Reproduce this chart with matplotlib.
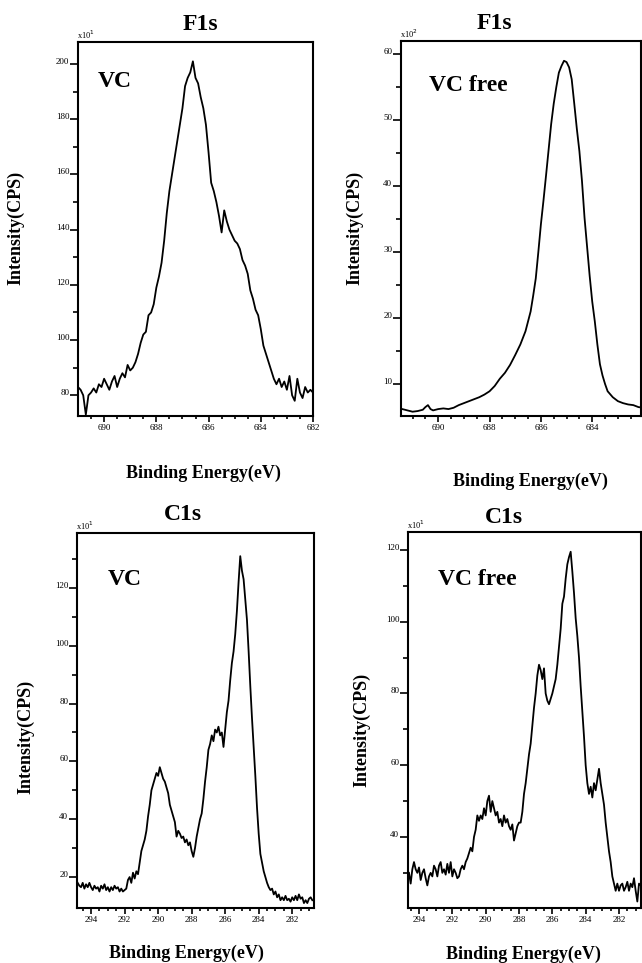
import numpy as np
import matplotlib
matplotlib.use("Agg")
import matplotlib.pyplot as plt

# ---------------- data ----------------
# F1s, VC (x10^1 CPS)
f1s_vc_y = [83, 82, 80, 73, 80, 81, 82.5, 81, 84, 83,
            86, 84, 82, 85, 87, 83, 86, 88, 86.5, 91,
            89, 90, 92, 95, 99, 102, 103, 109, 110, 113,
            119, 123, 128, 136, 146, 154, 160, 166, 172, 178,
            184, 192, 195, 197, 201, 195, 193, 188, 184, 178,
            168, 157, 154, 150, 145, 139, 147, 143, 140, 138,
            136, 135, 133, 129, 127, 124, 118, 115, 111, 109,
            104, 98, 95, 92, 89, 86, 84, 86, 83, 85,
            82, 87, 80, 78, 86, 81, 79, 83, 81, 82,
            81]
f1s_vc_x = np.linspace(691.0, 682.0, len(f1s_vc_y))

# F1s, VC free (x10^2 CPS)
f1s_free_x = [691.4, 691.2, 691.0, 690.8, 690.6, 690.5, 690.4, 690.3, 690.2, 690.0,
              689.8, 689.6, 689.4, 689.2, 689.0, 688.8, 688.6, 688.4, 688.2, 688.0,
              687.8, 687.6, 687.4, 687.2, 687.0, 686.8, 686.6, 686.4, 686.3, 686.2,
              686.1, 686.0, 685.9, 685.8, 685.7, 685.6, 685.5, 685.4, 685.3, 685.2,
              685.1, 685.0, 684.9, 684.8, 684.7, 684.6, 684.5, 684.4, 684.3, 684.2,
              684.1, 684.0, 683.9, 683.8, 683.7, 683.6, 683.5, 683.4, 683.2, 683.0,
              682.8, 682.6, 682.4, 682.2, 682.0]
f1s_free_y = [6.2, 6.0, 5.8, 5.9, 6.1, 6.5, 6.8, 6.2, 6.0, 6.2,
              6.3, 6.2, 6.4, 6.8, 7.1, 7.4, 7.7, 8.0, 8.4, 8.9,
              9.7, 10.8, 11.7, 12.9, 14.4, 16.0, 18.0, 21.0, 23.4, 26.0,
              30.0, 34.2, 37.8, 41.6, 45.5, 49.4, 52.5, 55.0, 57.2, 58.2,
              59.0, 58.8, 58.0, 56.2, 52.5, 48.7, 45.3, 40.8, 35.2, 30.8,
              26.4, 22.5, 19.5, 16.0, 13.0, 11.3, 10.0, 8.9, 8.0, 7.4,
              7.1, 6.9, 6.8, 6.5, 6.4]

# C1s, VC (x10^1 CPS)
c1s_vc_y = [18, 17, 16.5, 18, 16, 17.5, 16.5, 18, 16.5, 15.5,
            17, 16, 16.5, 15, 17, 16, 17.5, 15.5, 16.5, 15,
            16.5, 15.5, 17, 16, 16.5, 15, 16, 15, 15.5, 16,
            19, 20, 18, 21.5, 19.5, 22, 21, 25, 29, 31,
            33, 36, 41, 45, 50, 52, 54, 56, 55, 58,
            56, 54, 53, 51, 49, 45, 43, 41, 39, 34,
            36, 35, 33.5, 34, 32, 33, 31, 32, 29, 27,
            30, 34, 37, 40, 42, 47, 53, 58, 64, 66,
            69, 67, 71, 70, 72, 69, 70, 65, 71, 77,
            81, 88, 94, 98, 104, 112, 122, 131, 126, 123,
            116, 109, 98, 86, 75, 65, 55, 44, 35, 28,
            25, 22, 20, 18, 16.5, 15.5, 16, 14, 15, 13,
            14, 12, 13, 12, 13.5, 12, 12.5, 11.5, 13, 12,
            13.5, 12, 14, 12.5, 13, 11, 12, 11, 12.5, 13,
            12]
c1s_vc_x = np.linspace(294.8, 280.8, len(c1s_vc_y))

# C1s, VC free (x10^1 CPS)
c1s_free_y = [30, 27, 31, 33, 31, 30, 31.5, 28, 30, 31,
              28.5, 26.5, 29, 30, 29, 32, 31, 29, 32, 33,
              30, 31, 29.5, 32.5, 30, 33, 29, 31, 30, 28.5,
              29, 31, 32, 31, 33, 34, 35.5, 37, 36, 40,
              42, 46, 44.5, 46, 45, 48, 46, 50, 51.5, 47,
              50, 48, 46, 47, 44, 45, 43, 46, 44, 45,
              43, 42, 43.5, 39, 41, 43, 44, 44, 47, 52,
              55, 59, 63, 66, 71, 76, 80, 85, 88, 86.5,
              84, 87, 80, 78, 77, 78.5, 80, 82, 84, 88,
              93, 98, 105, 107, 112, 116, 118, 119.5, 114, 108,
              101, 96, 90, 82, 75, 68, 60, 55, 52, 54,
              51, 55, 53, 56, 59, 55, 52, 49, 44, 40,
              36, 33, 29, 27, 25, 27, 25, 26.5, 27, 25,
              26, 27.5, 25, 27, 26, 28.5, 25, 22, 27, 26.5]
c1s_free_x = np.linspace(294.6, 280.7, len(c1s_free_y))

# ---------------- figure ----------------
W, H = 642, 963
fig = plt.figure(figsize=(W / 100, H / 100), dpi=100)
SERIF = ["Liberation Serif", "DejaVu Serif"]


def px_axes(left, top, right, bottom):
    return fig.add_axes([left / W, 1 - bottom / H, (right - left) / W, (bottom - top) / H])


def ftext(x, y, s, **kw):
    fig.text(x / W, 1 - y / H, s, family=SERIF, **kw)


panels = [
    dict(box=(78, 42, 313, 416), x=f1s_vc_x, y=f1s_vc_y, xlim=(691.0, 682.0), ylim=(72.5, 208),
         xt=[690, 688, 686, 684, 682], xm=np.arange(682.5, 691.0, 0.5),
         yt=[80, 100, 120, 140, 160, 180, 200], ym=[90, 110, 130, 150, 170, 190],
         title="F1s", tpos=(200, 30), sample="VC", spos=(115, 87), mult=r"x10$^{1}$",
         xl=(203, 478), yl=(16, 228)),
    dict(box=(401, 41, 641, 416), x=f1s_free_x, y=f1s_free_y, xlim=(691.45, 682.1), ylim=(5.15, 62),
         xt=[690, 688, 686, 684], xm=np.arange(682.5, 691.5, 0.5),
         yt=[10, 20, 30, 40, 50, 60], ym=[15, 25, 35, 45, 55],
         title="F1s", tpos=(494, 29), sample="VC free", spos=(468, 91), mult=r"x10$^{2}$",
         xl=(530, 486), yl=(355, 228)),
    dict(box=(77, 533, 314, 908), x=c1s_vc_x, y=c1s_vc_y, xlim=(294.84, 280.7), ylim=(9.3, 139),
         xt=[294, 292, 290, 288, 286, 284, 282], xm=np.arange(281.0, 295.0, 0.5),
         yt=[20, 40, 60, 80, 100, 120], ym=[30, 50, 70, 90, 110, 130],
         title="C1s", tpos=(183, 520), sample="VC", spos=(125, 585), mult=r"x10$^{1}$",
         xl=(186, 958), yl=(26, 737)),
    dict(box=(408, 532, 641, 908), x=c1s_free_x, y=c1s_free_y, xlim=(294.66, 280.68), ylim=(20.2, 125),
         xt=[294, 292, 290, 288, 286, 284, 282], xm=np.arange(281.0, 294.6, 0.5),
         yt=[40, 60, 80, 100, 120], ym=[30, 50, 70, 90, 110],
         title="C1s", tpos=(504, 523), sample="VC free", spos=(477, 585), mult=r"x10$^{1}$",
         xl=(523, 959), yl=(362, 730)),
]

for p in panels:
    l, t, r, b = p["box"]
    ax = px_axes(l, t, r, b)
    ax.plot(p["x"], p["y"], color="black", lw=1.3)
    ax.set_xlim(*p["xlim"])
    ax.set_ylim(*p["ylim"])
    for sp in ax.spines.values():
        sp.set_linewidth(1.5)
    ax.set_xticks(p["xt"])
    ax.set_xticks(p["xm"], minor=True)
    ax.set_yticks(p["yt"])
    ax.set_yticks(p["ym"], minor=True)
    ax.set_xticklabels([str(v) for v in p["xt"]], family=SERIF, fontsize=6.5)
    ax.set_yticklabels([str(v) for v in p["yt"]], family=SERIF, fontsize=6.5)
    ax.tick_params(axis="both", which="both", direction="out", top=False, right=False, width=1.2)
    ax.tick_params(axis="y", which="major", length=6, pad=0.3)
    ax.tick_params(axis="y", which="minor", length=3.5)
    ax.tick_params(axis="x", which="major", length=4, pad=1.5)
    ax.tick_params(axis="x", which="minor", length=2.5)
    for lab in ax.get_yticklabels():
        lab.set_verticalalignment("baseline")

    ftext(*p["tpos"], p["title"], fontsize=17, fontweight="bold", ha="center", va="baseline")
    ftext(*p["spos"], p["sample"], fontsize=17, fontweight="bold", ha="center", va="baseline")
    ftext(l - 1, t - 1, p["mult"], fontsize=6, ha="left", va="bottom")
    ftext(*p["xl"], "Binding Energy(eV)", fontsize=13, fontweight="bold", ha="center", va="baseline")
    ftext(*p["yl"], "Intensity(CPS)", fontsize=13, fontweight="bold", ha="center", va="center",
          rotation=90)

fig.savefig("out.png", dpi=100)
